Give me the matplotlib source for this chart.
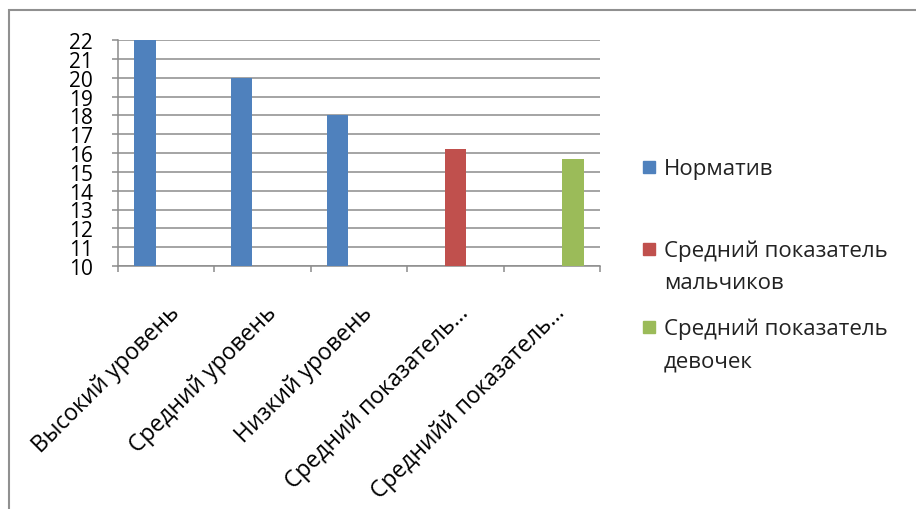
import matplotlib
matplotlib.use("Agg")
import matplotlib.pyplot as plt
import matplotlib.transforms as mtransforms
from matplotlib.patches import Rectangle
import numpy as np

plt.rcParams['font.family'] = ['Open Sans', 'DejaVu Sans']

# categories along x and the three series (one bar per category)
categories = ["Высокий уровень", "Средний уровень", "Низкий уровень",
              "Средний показатель…", "Среднийй показатель…"]
norm_vals = [22, 20, 18, np.nan, np.nan]
boys_vals = [np.nan, np.nan, np.nan, 16.2, np.nan]
girls_vals = [np.nan, np.nan, np.nan, np.nan, 15.7]
series_names = ["Норматив", "Средний показатель\nмальчиков",
                "Средний показатель\nдевочек"]
y_ticks = list(range(10, 23))

colors = ["#4F81BD", "#C0504D", "#9BBB59"]
grey = "#8c8c8c"

W, H = 916, 510
fig = plt.figure(figsize=(W / 100, H / 100), dpi=100)
ax = fig.add_axes([118 / W, 1 - 267 / H, (600 - 118) / W, (267 - 41) / H])

x = np.arange(len(categories))
bw = 0.22
for vals, off, c in zip([norm_vals, boys_vals, girls_vals], [-bw, 0, bw], colors):
    ax.bar(x + off, vals, width=bw, bottom=0, color=c, zorder=3)

ax.set_xlim(-0.5, len(categories) - 0.5)
ax.set_ylim(10, 22)
ax.set_yticks(y_ticks)
ax.yaxis.grid(True, color=grey, linewidth=1.1, zorder=0)
ax.set_axisbelow(True)

for s in ["top", "right"]:
    ax.spines[s].set_visible(False)
for s in ["left", "bottom"]:
    ax.spines[s].set_color(grey)
    ax.spines[s].set_linewidth(1.1)

ax.tick_params(axis="y", length=4.3, width=1.1, color=grey, pad=14,
               labelsize=15, labelcolor="black")

# category boundaries get the tick marks, labels sit at the centres
ax.set_xticks(x)
ax.set_xticks(np.arange(-0.5, len(categories)), minor=True)
ax.tick_params(axis="x", which="major", length=0, pad=31)
ax.tick_params(axis="x", which="minor", length=4.3, width=1.1, color=grey)
ax.set_xticklabels(categories, rotation=45, ha="right", va="center",
                   rotation_mode="anchor", fontsize=16.5)
shift = mtransforms.ScaledTranslation(10 / 100, 0, fig.dpi_scale_trans)
for lbl in ax.get_xticklabels():
    lbl.set_transform(lbl.get_transform() + shift)

# legend drawn by hand to the right of the plot
first_baseline = [175, 257, 335]
gap = 32
for name, c, yb in zip(series_names, colors, first_baseline):
    nlines = name.count("\n") + 1
    fig.patches.append(Rectangle((643 / W, 1 - (yb - 1) / H), 12 / W, 12 / H,
                                 transform=fig.transFigure, color=c))
    for i, line in enumerate(name.split("\n")):
        fig.text(664 / W, 1 - (yb + gap * i) / H, line, fontsize=16,
                 va="baseline", ha="left", color="#222222")

# chart frame
fig.patches.append(Rectangle((9 / W, -0.1), 1.2, 1.1 - 11 / H,
                             transform=fig.transFigure, fill=False,
                             edgecolor="#909090", linewidth=1.5))

fig.savefig("out.png", dpi=100)
